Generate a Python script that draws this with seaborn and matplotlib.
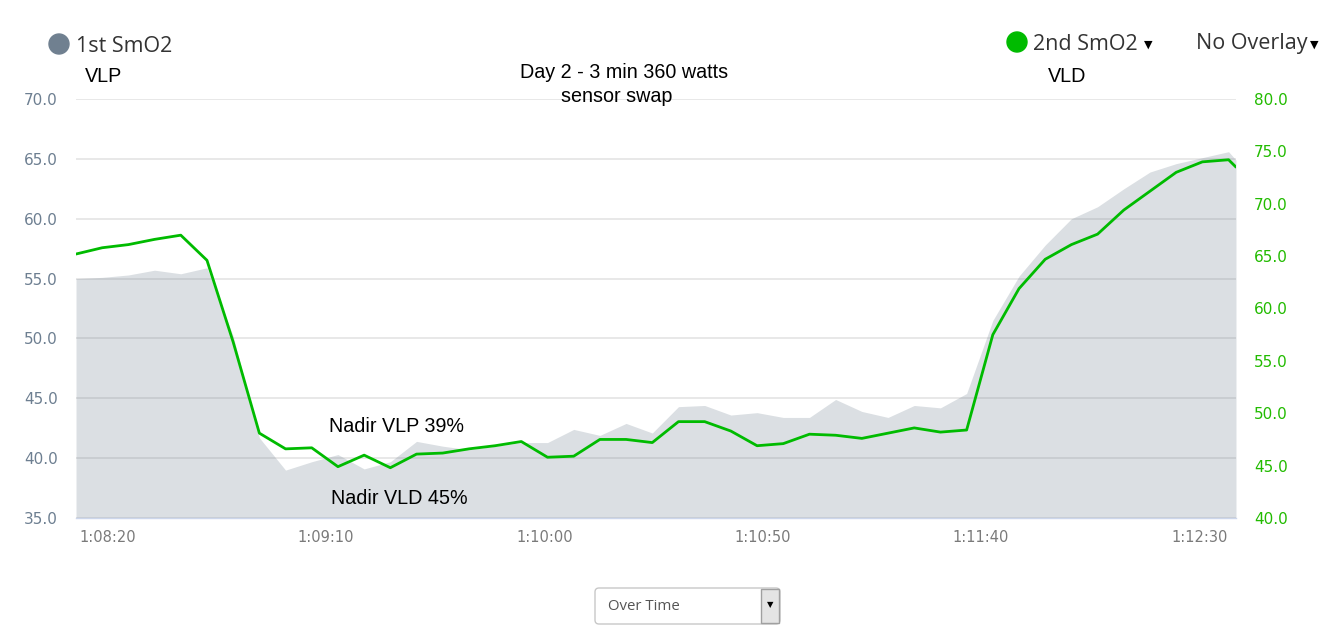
import matplotlib
matplotlib.use("Agg")
import matplotlib.pyplot as plt
import matplotlib.patches as mpatches
import matplotlib.transforms as mtransforms
import numpy as np
import pandas as pd
import seaborn as sns

# sample times, seconds after 1:08:00
sample_sec = [12.7, 18.7, 24.7, 30.7, 36.7, 42.7, 48.7, 54.7, 60.7, 66.7,
              72.7, 78.7, 84.7, 90.7, 96.7, 102.7, 108.7, 114.7, 120.7, 126.7,
              132.7, 138.7, 144.7, 150.7, 156.7, 162.7, 168.7, 174.7, 180.7, 186.7,
              192.7, 198.7, 204.7, 210.7, 216.7, 222.7, 228.7, 234.7, 240.7, 246.7,
              252.7, 258.7, 264.7, 270.7, 276.7, 278.4]

# 1st SmO2 (VLP), left axis
smo2_1st = [55.0, 55.1, 55.3, 55.7, 55.4, 55.9, 50.2, 41.7, 39.0, 39.7,
            40.3, 39.1, 39.7, 41.4, 41.0, 40.7, 41.0, 41.3, 41.3, 42.4,
            41.9, 42.9, 42.1, 44.3, 44.4, 43.6, 43.8, 43.4, 43.4, 44.9,
            43.9, 43.4, 44.4, 44.2, 45.4, 51.5, 55.2, 57.8, 60.0, 61.0,
            62.5, 63.9, 64.6, 65.1, 65.6, 64.9]

# 2nd SmO2 (VLD), right axis
smo2_2nd = [65.2, 65.8, 66.1, 66.6, 67.0, 64.6, 56.8, 48.1, 46.6, 46.7,
            44.9, 46.0, 44.8, 46.1, 46.2, 46.6, 46.9, 47.3, 45.8, 45.9,
            47.5, 47.5, 47.2, 49.2, 49.2, 48.3, 46.9, 47.1, 48.0, 47.9,
            47.6, 48.1, 48.6, 48.2, 48.4, 57.5, 61.9, 64.7, 66.1, 67.1,
            69.4, 71.2, 73.0, 74.0, 74.2, 73.5]

tick_sec = [20, 70, 120, 170, 220, 270]
tick_labels = ["1:08:20", "1:09:10", "1:10:00", "1:10:50", "1:11:40", "1:12:30"]
left_ticks = [35, 40, 45, 50, 55, 60, 65, 70]
right_ticks = [40, 45, 50, 55, 60, 65, 70, 75, 80]

df = pd.DataFrame({"sec": sample_sec, "first": smo2_1st, "second": smo2_2nd})

W, H = 1329, 636
sns.set_style("white")
plt.rcParams["font.family"] = ["DejaVu Sans"]

fig = plt.figure(figsize=(W / 100, H / 100), dpi=100)
ax = fig.add_axes([76 / W, 1 - 518 / H, (1236 - 76) / W, (518 - 99) / H])


def px(x, y):
    return x / W, 1 - y / H


# gray area for 1st SmO2
ax.fill_between(df["sec"], 35, df["first"], color="#708090", alpha=0.25, linewidth=0, zorder=2)
ax.set_xlim(sample_sec[0], sample_sec[-1])
ax.set_ylim(35, 70)
ax.set_yticks(left_ticks)
ax.set_yticklabels([f"{v:.1f}" for v in left_ticks])
ax.set_xticks(tick_sec)
ax.set_xticklabels(tick_labels)
ax.grid(axis="y", color="#e6e6e6", linewidth=1.3, zorder=0)
ax.set_axisbelow(True)
for s in ["top", "left", "right"]:
    ax.spines[s].set_visible(False)
ax.spines["bottom"].set_color("#ccd6eb")
ax.spines["bottom"].set_linewidth(1)
ax.tick_params(axis="y", length=0, pad=13, labelsize=11, labelcolor="#6d7f91")
ax.tick_params(axis="x", length=0, pad=9, labelsize=10.5, labelcolor="#7a7a7a")

# green line for 2nd SmO2
ax2 = ax.twinx()
sns.lineplot(data=df, x="sec", y="second", ax=ax2, color="#00bb00", linewidth=2, zorder=3)
ax2.set_ylim(40, 80)
ax2.set_yticks(right_ticks)
ax2.set_yticklabels([f"{v:.1f}" for v in right_ticks])
ax2.set_ylabel("")
ax2.set_xlabel("")
ax.set_xlabel("")
for s in ax2.spines.values():
    s.set_visible(False)
ax2.tick_params(axis="y", length=0, pad=13, labelsize=11, labelcolor="#22bb00")
ax2.grid(False)

# header legend
ident = mtransforms.IdentityTransform()
fig.add_artist(mpatches.Circle((59, H - 44), 10, color="#708090", transform=ident))
fig.text(*px(76, 46), "1st SmO2", fontsize=15.5, color="#333333", family="Open Sans", va="center")
fig.add_artist(mpatches.Circle((1017, H - 42), 10, color="#00bb00", transform=ident))
fig.text(*px(1033, 44), "2nd SmO2", fontsize=15.5, color="#333333", family="Open Sans", va="center")
fig.text(*px(1144, 45), "▼", fontsize=8, color="black", va="center")
fig.text(*px(1196, 44), "No Overlay", fontsize=15.5, color="#333333", family="Open Sans", va="center")
fig.text(*px(1310, 45), "▼", fontsize=8, color="black", va="center")

# annotations
ann = dict(fontsize=14.2, color="black", family="Liberation Sans", va="center")
fig.text(*px(85, 77), "VLP", **ann)
fig.text(*px(1048, 77), "VLD", **ann)
fig.text(*px(624, 73), "Day 2 - 3 min 360 watts", ha="center", **ann)
fig.text(*px(617, 96), "sensor swap", ha="center", **ann)
fig.text(*px(329, 426), "Nadir VLP 39%", **ann)
fig.text(*px(331, 498), "Nadir VLD 45%", **ann)

# dropdown below chart
box = mpatches.FancyBboxPatch((595, H - 624), 185, 36, boxstyle="round,pad=0,rounding_size=4",
                              facecolor="white", edgecolor="#c8c8c8", linewidth=1, transform=ident)
fig.add_artist(box)
btn = mpatches.Rectangle((761, H - 623), 18, 34, facecolor="#e4e4e4", edgecolor="#a0a0a0",
                         linewidth=1, transform=ident)
fig.add_artist(btn)
fig.text(*px(770, 605), "▼", fontsize=6, color="black", ha="center", va="center")
fig.text(*px(608, 607), "Over Time", fontsize=10.8, color="#555555", family="Open Sans", va="center")

fig.savefig("out.png", dpi=100)
